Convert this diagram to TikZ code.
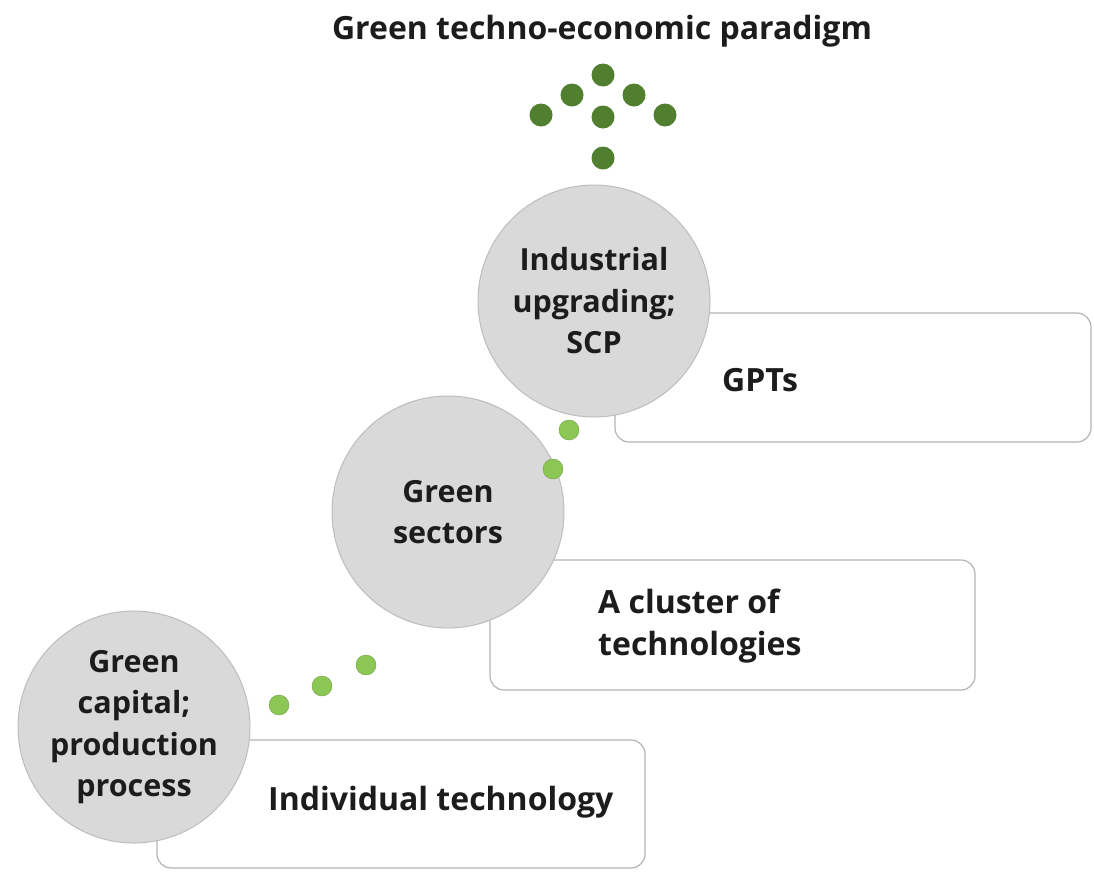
\documentclass[tikz,border=0pt]{standalone}
\usepackage{fontspec}
\setmainfont{Open Sans}
\definecolor{boxgray}{HTML}{B4B4B4}
\definecolor{circfill}{HTML}{D9D9D9}
\definecolor{circline}{HTML}{BDBDBD}
\definecolor{txt}{HTML}{1C1C1C}
\definecolor{darkgreen}{HTML}{4F7F2F}
\definecolor{lightgreen}{HTML}{8CC756}
\begin{document}
\begin{tikzpicture}[x=1pt,y=-1pt,
  box/.style={draw=boxgray, line width=1.2pt, rounded corners=14pt, fill=white, inner sep=0pt},
  hub/.style={circle, draw=circline, fill=circfill, line width=1pt, minimum size=232pt, inner sep=0pt, align=center, text=txt, font=\fontsize{30.5}{41.5}\selectfont\bfseries},
  label/.style={anchor=west, align=left, text=txt, inner sep=0pt, font=\fontsize{32}{42}\selectfont\bfseries},
  ldot/.style={circle, fill=lightgreen, draw=lightgreen!80!black, line width=0.4pt, minimum size=20pt, inner sep=0pt},
  ddot/.style={circle, fill=darkgreen, minimum size=23pt, inner sep=0pt}]
\useasboundingbox (0,0) rectangle (1094,871);
\fill[white] (0,0) rectangle (1094,871);
% title
\node[text=txt, inner sep=0pt, font=\fontsize{32}{36}\selectfont\bfseries] (title) at (602,31) {Green techno-economic paradigm};
% dark green dots
\node[ddot] (d1) at (603,75) {};
\node[ddot] (d2) at (572,95) {};
\node[ddot] (d3) at (634,95) {};
\node[ddot] (d4) at (541,115) {};
\node[ddot] (d5) at (603,117) {};
\node[ddot] (d6) at (665,115) {};
\node[ddot] (d7) at (603,158) {};
% boxes
\node[box, minimum width=476pt, minimum height=129pt] (b1) at (853,377.5) {};
\node[box, minimum width=485pt, minimum height=130pt] (b2) at (732.5,625) {};
\node[box, minimum width=488pt, minimum height=128pt] (b3) at (401,804) {};
% box labels
\node[label] (l1) at (722,380) {GPTs};
\node[label] (l2) at (598,626) {A cluster of\\technologies};
\node[label] (l3) at (268,802) {Individual technology};
% circles
\node[hub] (c1) at (594,301) {Industrial\\upgrading;\\SCP};
\node[hub] (c2) at (448,512) {Green\\sectors};
\node[hub] (c3) at (134,727) {Green\\capital;\\production\\process};
% light green dots
\node[ldot] (g1) at (569,430) {};
\node[ldot] (g2) at (553,469) {};
\node[ldot] (g3) at (366,665) {};
\node[ldot] (g4) at (322,686) {};
\node[ldot] (g5) at (279,705) {};
\end{tikzpicture}
\end{document}
